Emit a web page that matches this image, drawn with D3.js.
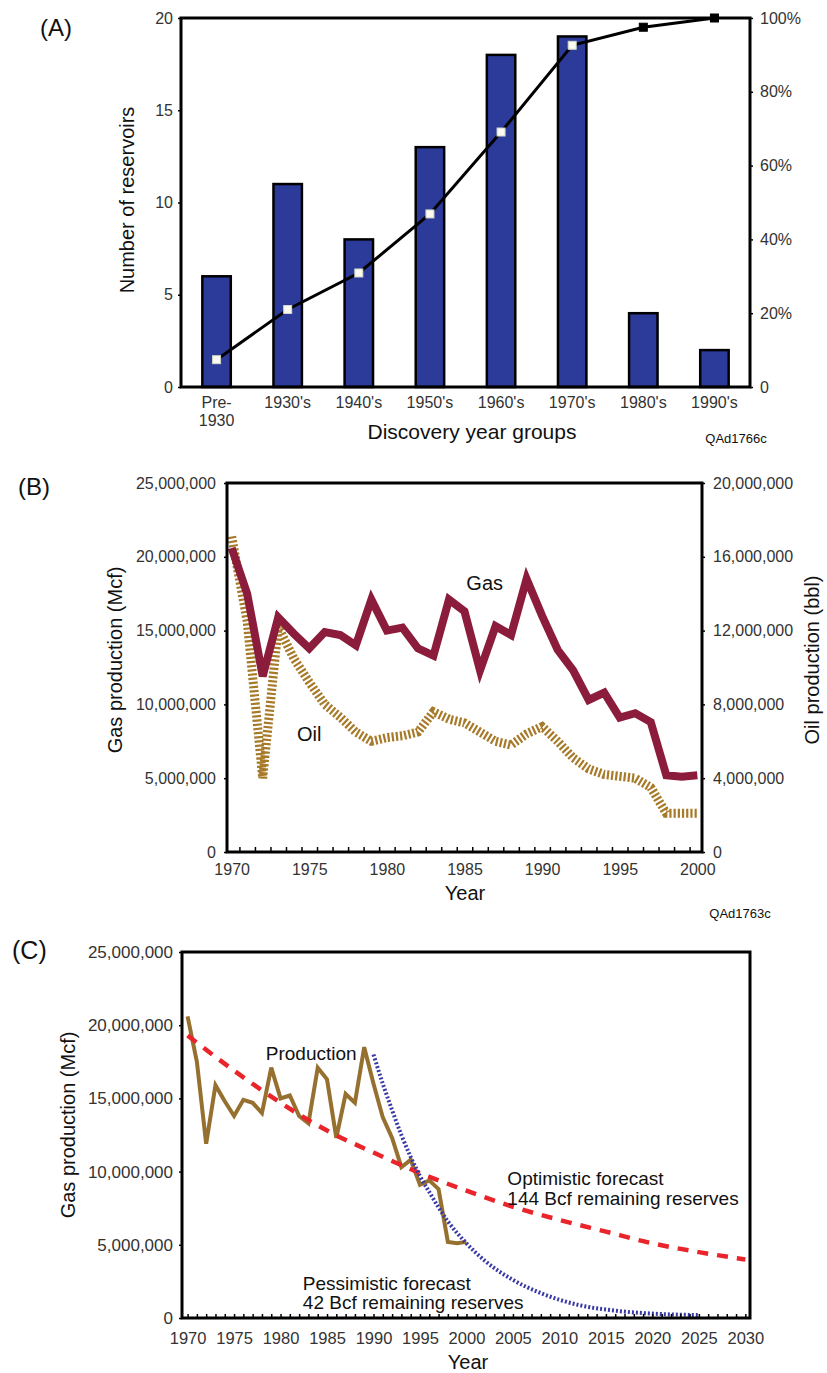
<!DOCTYPE html>
<html>
<head>
<meta charset="utf-8">
<script src="https://cdn.jsdelivr.net/npm/d3@7"></script>
<style>
  body { margin: 0; background: #fff; }
  svg { display: block; font-family: "Liberation Sans", Arial, sans-serif; }
  .tick text { fill: #333; }
  .domain { display: none; }
</style>
</head>
<body>
<div id="chart"></div>
<script>
// ---- Panel A data ----
const aCategories = ["Pre-1930", "1930's", "1940's", "1950's", "1960's", "1970's", "1980's", "1990's"];
const aCounts = [6, 11, 8, 13, 18, 19, 4, 2];
const aCumulativePct = [7.4, 21.0, 30.9, 46.9, 69.1, 92.6, 97.5, 100];
const aLeftTicks = [0, 5, 10, 15, 20];
const aRightTicks = [0, 20, 40, 60, 80, 100];

// ---- Panel B data ----
const bYears = d3.range(1970, 2001);
const bGasMcf = [
  20600000, 17500000, 11900000, 15900000, 14800000, 13800000, 14900000, 14700000,
  14000000, 17100000, 15000000, 15200000, 13800000, 13300000, 17100000, 16300000,
  12300000, 15300000, 14700000, 18500000, 16000000, 13700000, 12300000, 10300000,
  10800000, 9100000, 9400000, 8800000, 5200000, 5100000, 5200000
];
const bOilBbl = [
  17100000, 12500000, 4000000, 12200000, 10500000, 9200000, 8000000, 7300000,
  6500000, 6000000, 6200000, 6300000, 6500000, 7600000, 7200000, 7000000,
  6500000, 6000000, 5800000, 6400000, 6800000, 6000000, 5100000, 4500000,
  4200000, 4100000, 4000000, 3500000, 2100000, 2100000, 2100000
];
const bGasTicks = [0, 5000000, 10000000, 15000000, 20000000, 25000000];
const bOilTicks = [0, 4000000, 8000000, 12000000, 16000000, 20000000];
const bYearTicks = [1970, 1975, 1980, 1985, 1990, 1995, 2000];

// ---- Panel C data ----
const cOptimisticYears = [1970, 1975, 1980, 1985, 1990, 1995, 2000, 2005, 2010, 2015, 2020, 2025, 2030];
const cOptimistic = [19300000, 16900000, 14700000, 12800000, 11300000, 9900000, 8700000, 7600000, 6700000, 5900000, 5100000, 4500000, 4000000];
const cPessimisticYears = [1990, 1991, 1992, 1993, 1994, 1995, 1996, 1998, 2000, 2002, 2005, 2008, 2012, 2016, 2020, 2025];
const cPessimistic = [18000000, 16000000, 14200000, 12500000, 11000000, 9700000, 8600000, 6600000, 5100000, 3900000, 2600000, 1700000, 900000, 500000, 300000, 200000];
const cGasTicks = [0, 5000000, 10000000, 15000000, 20000000, 25000000];
const cYearTicks = [1970, 1975, 1980, 1985, 1990, 1995, 2000, 2005, 2010, 2015, 2020, 2025, 2030];

// Colours
const barBlue = "#2c3a9a";
const gasRed = "#8c1c3c";
const oilGold = "#a77a2a";
const prodBrown = "#96702f";
const optRed = "#e9242a";
const pessBlue = "#3a3aa6";

const fmt = d3.format(",");

const svg = d3.select("#chart").append("svg")
  .attr("width", 827)
  .attr("height", 1373);

svg.append("rect").attr("width", 827).attr("height", 1373).attr("fill", "#fff");

// Draw a box frame
const frame = (x0, y0, x1, y1) =>
  svg.append("rect")
    .attr("x", x0).attr("y", y0)
    .attr("width", x1 - x0).attr("height", y1 - y0)
    .attr("fill", "none").attr("stroke", "#000").attr("stroke-width", 3);

const styleAxis = (g, size) => {
  g.selectAll(".tick text").attr("font-size", size);
  g.selectAll(".tick line").attr("stroke", "#000").attr("stroke-width", 1.5);
};

const rotatedLabel = (x, y, text, size) =>
  svg.append("text")
    .attr("transform", `translate(${x},${y}) rotate(-90)`)
    .attr("text-anchor", "middle")
    .attr("dy", "0.35em")
    .attr("font-size", size)
    .attr("fill", "#111")
    .text(text);

const label = (x, y, text, size, anchor = "middle", fill = "#111") =>
  svg.append("text")
    .attr("x", x).attr("y", y)
    .attr("dy", "0.35em")
    .attr("text-anchor", anchor)
    .attr("font-size", size)
    .attr("fill", fill)
    .text(text);

// =================== Panel A ===================
{
  const left = 181, right = 750, top = 18, bottom = 387;
  const x = d3.scaleBand().domain(aCategories).range([left, right]).paddingInner(0.6).paddingOuter(0.3);
  const y = d3.scaleLinear().domain([0, 20]).range([bottom, top]);
  const yPct = d3.scaleLinear().domain([0, 100]).range([bottom, top]);

  // Bars
  svg.append("g").selectAll("rect")
    .data(aCounts)
    .join("rect")
    .attr("x", (d, i) => x(aCategories[i]))
    .attr("y", (d) => y(d))
    .attr("width", x.bandwidth())
    .attr("height", (d) => y(0) - y(d))
    .attr("fill", barBlue)
    .attr("stroke", "#000")
    .attr("stroke-width", 2.5);

  // Cumulative line
  const cx = (i) => x(aCategories[i]) + x.bandwidth() / 2;
  svg.append("path")
    .datum(aCumulativePct)
    .attr("fill", "none")
    .attr("stroke", "#000")
    .attr("stroke-width", 3)
    .attr("d", d3.line().x((d, i) => cx(i)).y((d) => yPct(d)));

  svg.append("g").selectAll("rect")
    .data(aCumulativePct)
    .join("rect")
    .attr("x", (d, i) => cx(i) - 4)
    .attr("y", (d) => yPct(d) - 4)
    .attr("width", 8).attr("height", 8)
    .attr("fill", (d, i) => (i < 6 ? "#fafaf0" : "#000"))
    .attr("stroke", (d, i) => (i < 6 ? "#cfd8c8" : "#000"))
    .attr("stroke-width", 1);

  frame(left, top, right, bottom);

  const gl = svg.append("g").attr("transform", `translate(${left},0)`)
    .call(d3.axisLeft(y).tickValues(aLeftTicks).tickSize(3).tickPadding(5));
  styleAxis(gl, 16);

  const gr = svg.append("g").attr("transform", `translate(${right},0)`)
    .call(d3.axisRight(yPct).tickValues(aRightTicks).tickSize(3).tickPadding(7)
      .tickFormat((d) => (d === 0 ? "0" : d + "%")));
  styleAxis(gr, 16);

  const gx = svg.append("g").attr("transform", `translate(0,${bottom})`)
    .call(d3.axisBottom(x).tickSize(0).tickPadding(10));
  styleAxis(gx, 16);
  gx.selectAll(".tick text")
    .filter((d) => d === "Pre-1930")
    .text(null)
    .call((t) => {
      t.append("tspan").attr("x", 0).text("Pre-");
      t.append("tspan").attr("x", 0).attr("dy", "1.1em").text("1930");
    });

  rotatedLabel(127, 200, "Number of reservoirs", 20);
  label(472, 432, "Discovery year groups", 21);
  label(736, 438, "QAd1766c", 13);
  label(40, 28, "(A)", 24, "start");
}

// =================== Panel B ===================
{
  const left = 227, right = 702, top = 483, bottom = 852;
  const x = d3.scaleLinear().domain([1969.7, 2000.3]).range([left, right]);
  const yGas = d3.scaleLinear().domain([0, 25000000]).range([bottom, top]);
  const yOil = d3.scaleLinear().domain([0, 20000000]).range([bottom, top]);

  svg.append("path")
    .datum(bOilBbl)
    .attr("fill", "none")
    .attr("stroke", oilGold)
    .attr("stroke-width", 9)
    .attr("stroke-dasharray", "2.2,2")
    .attr("d", d3.line().x((d, i) => x(bYears[i])).y((d) => yOil(d)));

  svg.append("path")
    .datum(bGasMcf)
    .attr("fill", "none")
    .attr("stroke", gasRed)
    .attr("stroke-width", 8)
    .attr("stroke-linejoin", "miter")
    .attr("d", d3.line().x((d, i) => x(bYears[i])).y((d) => yGas(d)));

  frame(left, top, right, bottom);

  // Minor ticks inside bottom
  svg.append("g").attr("transform", `translate(0,${bottom})`)
    .call(d3.axisBottom(x).tickValues(bYears.slice(0, -1).map((d) => d + 0.5)).tickSize(-5).tickFormat(""))
    .call((g) => g.selectAll(".tick line").attr("stroke", "#000").attr("stroke-width", 1.5));

  const gx = svg.append("g").attr("transform", `translate(0,${bottom})`)
    .call(d3.axisBottom(x).tickValues(bYearTicks).tickSize(0).tickFormat(d3.format("d")).tickPadding(12));
  styleAxis(gx, 16);

  const gl = svg.append("g").attr("transform", `translate(${left},0)`)
    .call(d3.axisLeft(yGas).tickValues(bGasTicks).tickSize(3).tickPadding(8).tickFormat(fmt));
  styleAxis(gl, 16);

  const gr = svg.append("g").attr("transform", `translate(${right},0)`)
    .call(d3.axisRight(yOil).tickValues(bOilTicks).tickSize(3).tickPadding(8).tickFormat(fmt));
  styleAxis(gr, 16);

  rotatedLabel(115, 660, "Gas production (Mcf)", 20);
  rotatedLabel(812, 660, "Oil production (bbl)", 20);
  label(465, 893, "Year", 20);
  label(740, 913, "QAd1763c", 13);
  label(18, 487, "(B)", 24, "start");
  label(x(1986.3), yGas(18200000), "Gas", 20);
  label(x(1975), yGas(8000000), "Oil", 20);
}

// =================== Panel C ===================
{
  const left = 182, right = 750, top = 952, bottom = 1318;
  const x = d3.scaleLinear().domain([1969.4, 2030.5]).range([left, right]);
  const y = d3.scaleLinear().domain([0, 25000000]).range([bottom, top]);

  svg.append("path")
    .datum(bGasMcf)
    .attr("fill", "none")
    .attr("stroke", prodBrown)
    .attr("stroke-width", 4)
    .attr("stroke-linejoin", "miter")
    .attr("d", d3.line().x((d, i) => x(bYears[i])).y((d) => y(d)));

  svg.append("path")
    .datum(cOptimistic)
    .attr("fill", "none")
    .attr("stroke", optRed)
    .attr("stroke-width", 4.5)
    .attr("stroke-dasharray", "11,9")
    .attr("d", d3.line().curve(d3.curveMonotoneX)
      .x((d, i) => x(cOptimisticYears[i])).y((d) => y(d)));

  svg.append("path")
    .datum(cPessimistic)
    .attr("fill", "none")
    .attr("stroke", pessBlue)
    .attr("stroke-width", 4)
    .attr("stroke-dasharray", "2,2")
    .attr("d", d3.line().curve(d3.curveMonotoneX)
      .x((d, i) => x(cPessimisticYears[i])).y((d) => y(d)));

  frame(left, top, right, bottom);

  svg.append("g").attr("transform", `translate(0,${bottom})`)
    .call(d3.axisBottom(x).tickValues(d3.range(1970, 2031)).tickSize(-4).tickFormat(""))
    .call((g) => g.selectAll(".tick line").attr("stroke", "#000").attr("stroke-width", 1.5));

  const gx = svg.append("g").attr("transform", `translate(0,${bottom})`)
    .call(d3.axisBottom(x).tickValues(cYearTicks).tickSize(0).tickFormat(d3.format("d")).tickPadding(14));
  styleAxis(gx, 16.5);

  const gl = svg.append("g").attr("transform", `translate(${left},0)`)
    .call(d3.axisLeft(y).tickValues(cGasTicks).tickSize(3).tickPadding(6).tickFormat(fmt));
  styleAxis(gl, 17);

  rotatedLabel(68, 1125, "Gas production (Mcf)", 20);
  label(468, 1362, "Year", 20);
  label(12, 950, "(C)", 25, "start");
  label(x(1983.3), y(18100000), "Production", 19);
  label(x(2004.4), y(9550000), "Optimistic forecast", 19, "start");
  label(x(2004.4), y(8200000), "144 Bcf remaining reserves", 19, "start");
  label(x(1982.4), y(2390000), "Pessimistic forecast", 19, "start");
  label(x(1982.4), y(1090000), "42 Bcf remaining reserves", 19, "start");
}
</script>
</body>
</html>
